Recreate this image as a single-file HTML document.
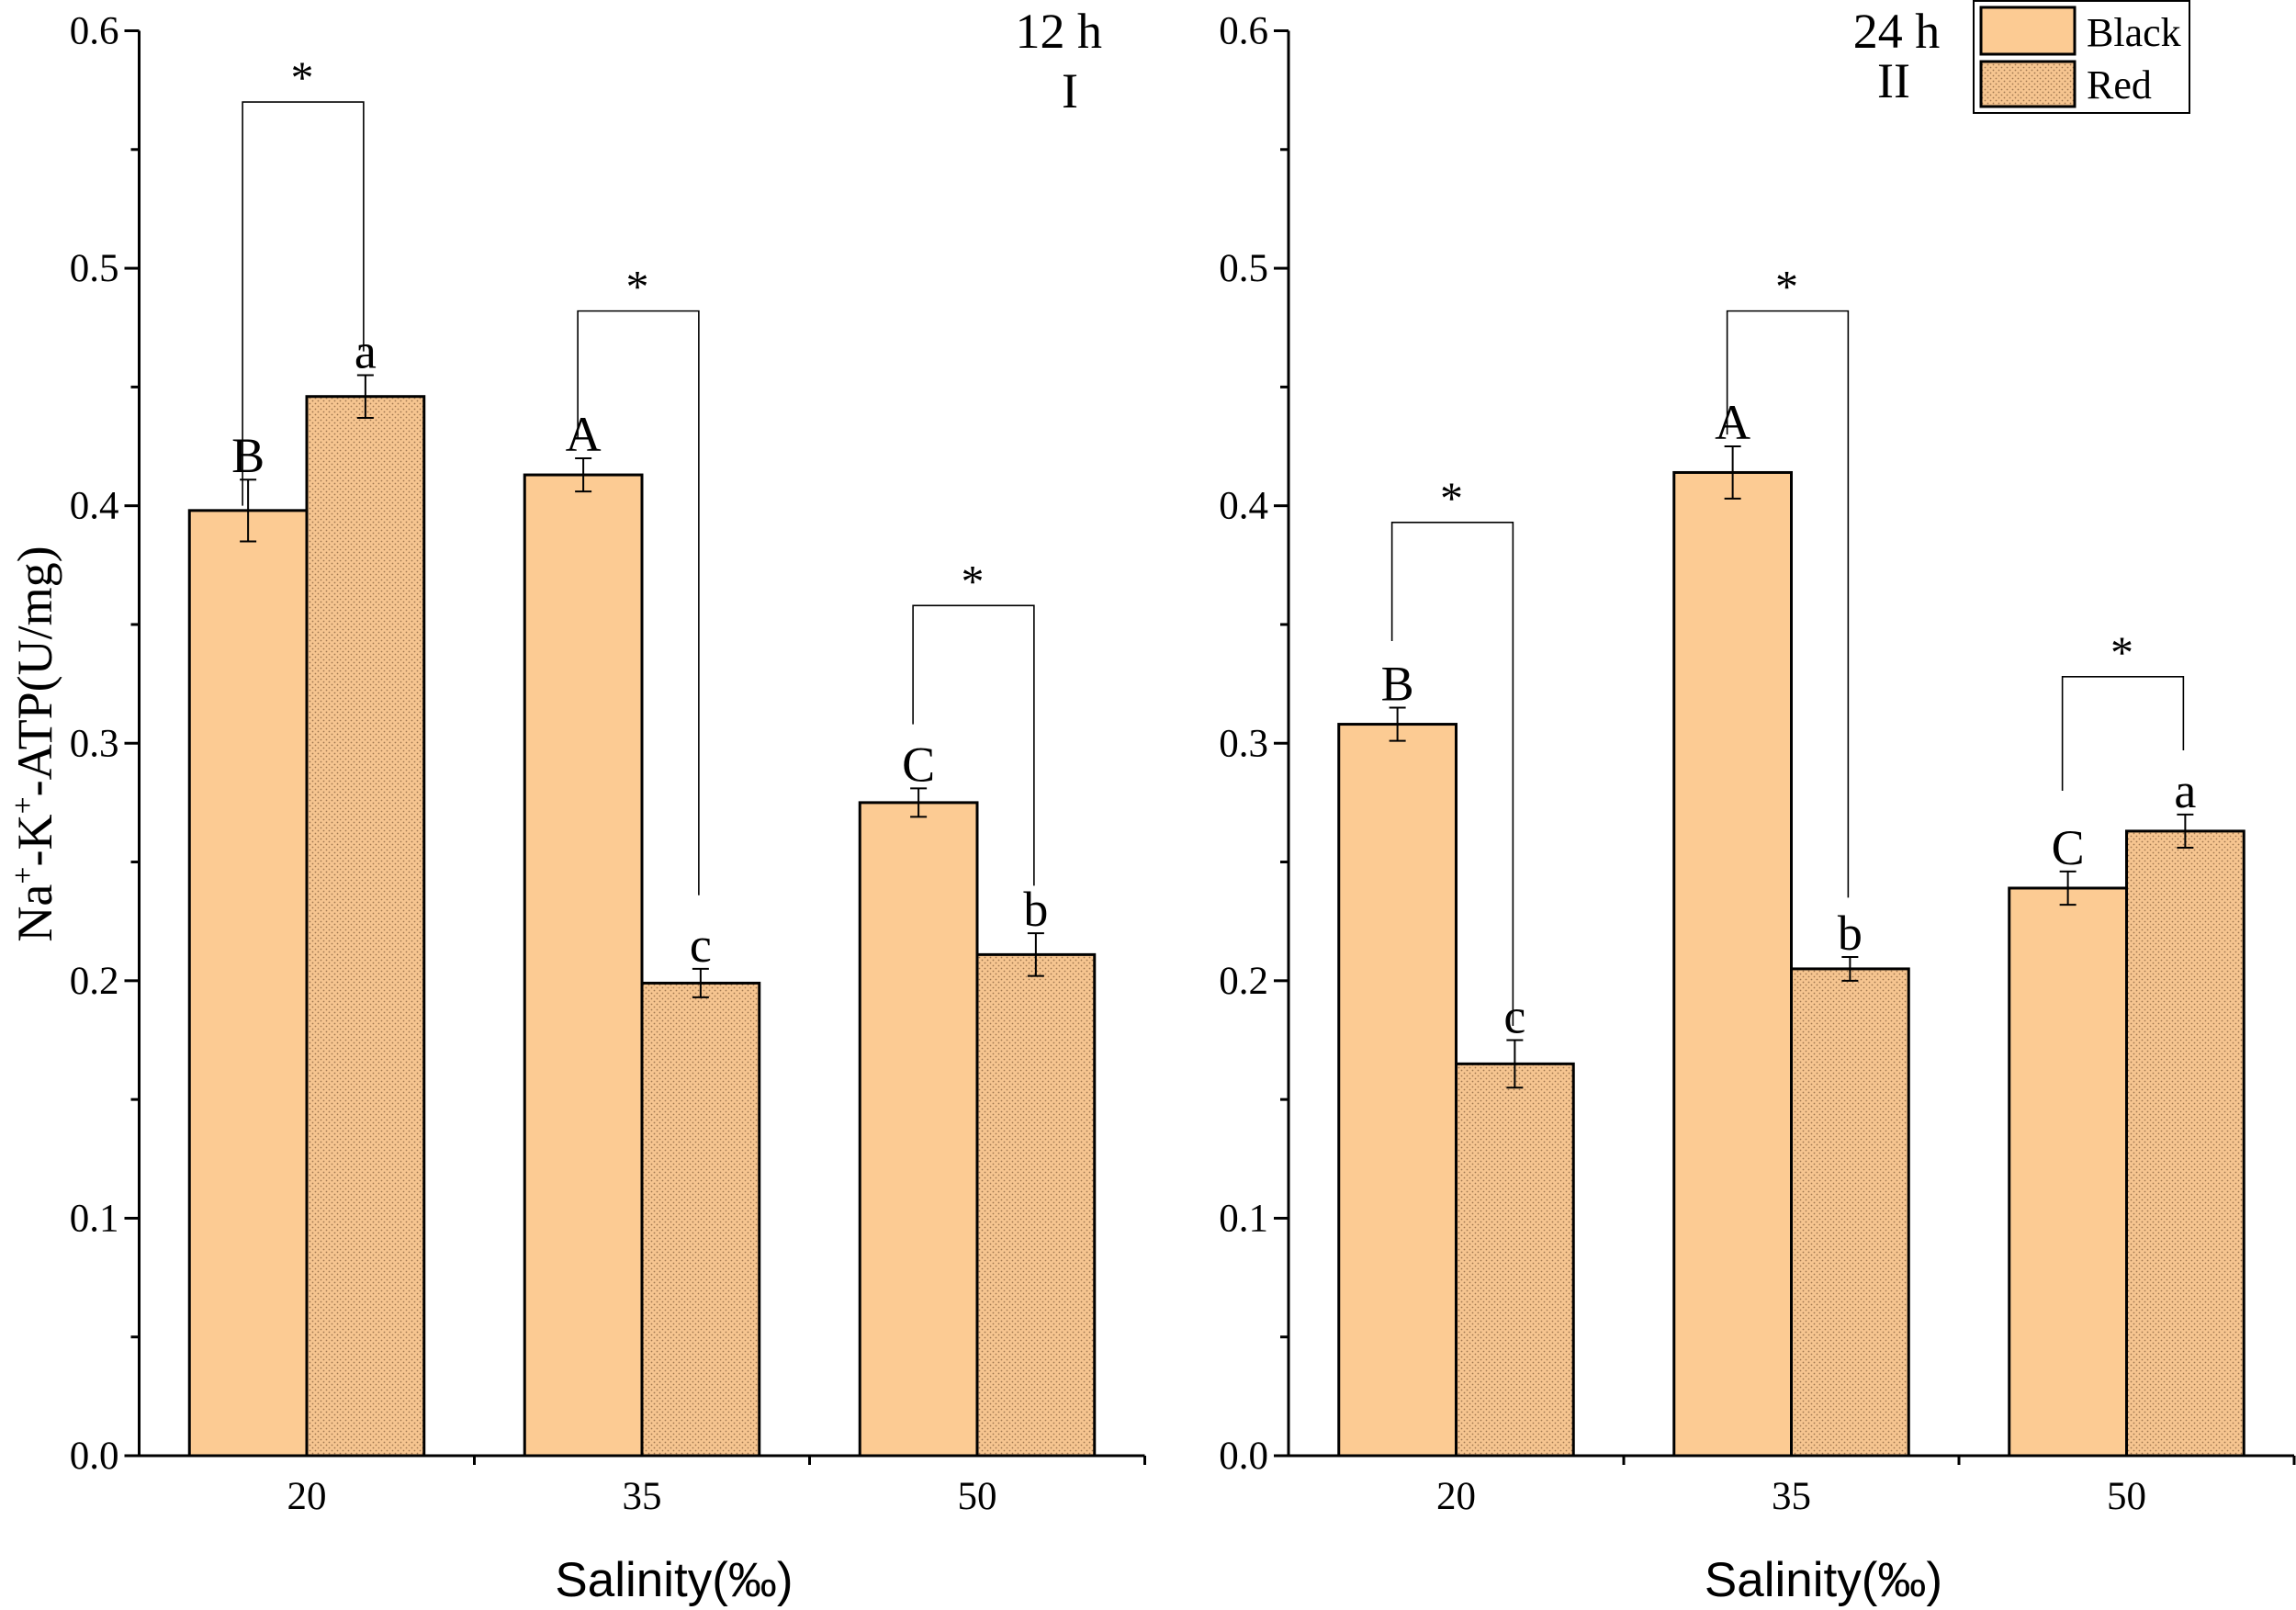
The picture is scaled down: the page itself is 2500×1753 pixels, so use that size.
<!DOCTYPE html>
<html><head><meta charset="utf-8"><style>
html,body{margin:0;padding:0;background:#fff}
svg{display:block}
text{font-family:"Liberation Serif",serif;fill:#000}
</style></head><body>
<svg id="chart" width="2500" height="1753" viewBox="0 0 2500 1753" xmlns="http://www.w3.org/2000/svg">
<defs>
<pattern id="dots" width="6" height="6" patternUnits="userSpaceOnUse">
<rect width="6" height="6" fill="#f6c590"/>
<circle cx="1.5" cy="1.5" r="0.9" fill="#a07850"/>
<circle cx="4.5" cy="4.5" r="0.9" fill="#a07850"/>
</pattern>
</defs>
<g id="root"></g>
</svg>
<script>
const categories = ["20", "35", "50"];
const yTicks = [0, 0.1, 0.2, 0.3, 0.4, 0.5, 0.6];
const blackVals12 = [0.398, 0.413, 0.275];
const redVals12 = [0.446, 0.199, 0.211];
const blackErr12 = [0.013, 0.007, 0.006];
const redErr12 = [0.009, 0.006, 0.009];
const blackLetters12 = ["B", "A", "C"];
const redLetters12 = ["a", "c", "b"];
const blackVals24 = [0.308, 0.414, 0.239];
const redVals24 = [0.165, 0.205, 0.263];
const blackErr24 = [0.007, 0.011, 0.007];
const redErr24 = [0.010, 0.005, 0.007];
const blackLetters24 = ["B", "A", "C"];
const redLetters24 = ["c", "b", "a"];
const brackets12 = [[0.570, 0.400, 0.465], [0.482, 0.428, 0.236], [0.358, 0.308, 0.240]];
const brackets24 = [[0.393, 0.343, 0.181], [0.482, 0.430, 0.235], [0.328, 0.280, 0.297]];

const NS = "http://www.w3.org/2000/svg";
const root = document.getElementById("root");
function el(tag, attrs, parent, txt) {
  const e = document.createElementNS(NS, tag);
  for (const k in attrs) e.setAttribute(k, attrs[k]);
  if (txt !== undefined) e.textContent = txt;
  (parent || root).appendChild(e);
  return e;
}
const Y0 = 1585, YTOP = 33.5, VMAX = 0.6, AXW = 1095;
function yS(v) { return Y0 - (v / VMAX) * (Y0 - YTOP); }

function panel(x0, name, bv, rv, be, re, bl, rl, br, showYTitle) {
  const g = el("g", {});
  
  
  const cw = AXW / categories.length;
  const bw = cw * 0.35;
  function xC(i) { return x0 + cw * (i + 0.5); }
  categories.forEach((c, i) => {
    const xc = xC(i);
    const b = el("rect", {x: xc - bw, y: yS(bv[i]), width: bw, height: Y0 - yS(bv[i]), fill: "#fccb93", stroke: "#000", "stroke-width": 3}, g);
    
    
    const r = el("rect", {x: xc, y: yS(rv[i]), width: bw, height: Y0 - yS(rv[i]), fill: "url(#dots)", stroke: "#000", "stroke-width": 3}, g);
    
    
    [[xc - bw / 2, bv[i], be[i], bl[i], 'black'], [xc + bw / 2, rv[i], re[i], rl[i], 'red']].forEach(([ex, v, e, l, s]) => {
      const eg = el("g", {stroke: "#000", "stroke-width": 2}, g);
      
      
      el("line", {x1: ex, x2: ex, y1: yS(v - e), y2: yS(v + e)}, eg);
      el("line", {x1: ex - 9, x2: ex + 9, y1: yS(v - e), y2: yS(v - e)}, eg);
      el("line", {x1: ex - 9, x2: ex + 9, y1: yS(v + e), y2: yS(v + e)}, eg);
      const t = el("text", {x: ex, y: yS(v + e) - 8, "text-anchor": "middle", "font-size": 54}, g, l);
      
      
    });
    const bk = br[i];
    const lx = xC(i) - bw / 2 - 6, rx = xC(i) + bw / 2 - 2;
    const p = el("polyline", {points: `${lx},${yS(bk[1])} ${lx},${yS(bk[0])} ${rx},${yS(bk[0])} ${rx},${yS(bk[2])}`, fill: "none", stroke: "#000", "stroke-width": 1.6}, g);
    
    
    const st = el("text", {x: xc - 5, y: yS(bk[0]) - 10, "text-anchor": "middle", "font-size": 50}, g, "*");
    
    
    const tl = el("text", {x: xc, y: Y0 + 58, "text-anchor": "middle", "font-size": 43}, g, c);
    
    
  });
  const ax = el("g", {stroke: "#000", "stroke-width": 3}, g);
  
  
  el("line", {x1: x0, x2: x0, y1: YTOP, y2: Y0 + 1.5}, ax);
  el("line", {x1: x0, x2: x0 + AXW, y1: Y0, y2: Y0}, ax);
  for (let k = 1; k < categories.length; k++) el("line", {x1: x0 + cw * k, x2: x0 + cw * k, y1: Y0, y2: Y0 + 10}, ax);
  el("line", {x1: x0 + AXW, x2: x0 + AXW, y1: Y0, y2: Y0 + 10}, ax);
  yTicks.forEach((v, k) => {
    el("line", {x1: x0 - 16, x2: x0, y1: yS(v), y2: yS(v)}, ax);
    if (k < yTicks.length - 1) el("line", {x1: x0 - 9, x2: x0, y1: yS(v + 0.05), y2: yS(v + 0.05)}, ax);
    const t = el("text", {x: x0 - 22, y: yS(v) + 14, "text-anchor": "end", "font-size": 43}, g, v.toFixed(1));
    
    
  });
  const xt = el("text", {x: x0 + AXW / 2 + 35, y: 1738, "text-anchor": "middle", "font-size": 53, style: "font-family:'Liberation Sans',sans-serif"}, g, "Salinity(‰)");
  
  
  if (showYTitle) {
    const yt = el("text", {transform: "translate(56,810) rotate(-90)", "text-anchor": "middle", "font-size": 54}, g);
    
    
    yt.innerHTML = 'Na<tspan dy="-20" font-size="34">+</tspan><tspan dy="20">-K</tspan><tspan dy="-20" font-size="34">+</tspan><tspan dy="20">-ATP(U/mg)</tspan>';
  }
}
panel(151.5, "panel-12h", blackVals12, redVals12, blackErr12, redErr12, blackLetters12, redLetters12, brackets12, true);
panel(1403, "panel-24h", blackVals24, redVals24, blackErr24, redErr24, blackLetters24, redLetters24, brackets24, false);

function label(x, y, s, n, anchor) {
  const t = el("text", {x: x, y: y, "text-anchor": anchor, "font-size": 54}, root, s);
  
  
}
label(1200, 52, "12 h", "panel-time-12h", "end");
label(1165, 117, "I", "panel-label-I", "middle");
label(2065, 52, "24 h", "panel-time-24h", "middle");
label(2062, 106, "II", "panel-label-II", "middle");

const lg = el("g", {});


el("rect", {x: 2149, y: 1, width: 235, height: 122, fill: "#fff", stroke: "#000", "stroke-width": 2}, lg);
const e1 = el("rect", {x: 2157, y: 8, width: 102, height: 51, fill: "#fccb93", stroke: "#000", "stroke-width": 3}, lg);


const e2 = el("rect", {x: 2157, y: 67, width: 102, height: 49, fill: "url(#dots)", stroke: "#000", "stroke-width": 3}, lg);


const l1 = el("text", {x: 2272, y: 50, "font-size": 44}, lg, "Black");


const l2 = el("text", {x: 2272, y: 107, "font-size": 44}, lg, "Red");


</script>
</body></html>
